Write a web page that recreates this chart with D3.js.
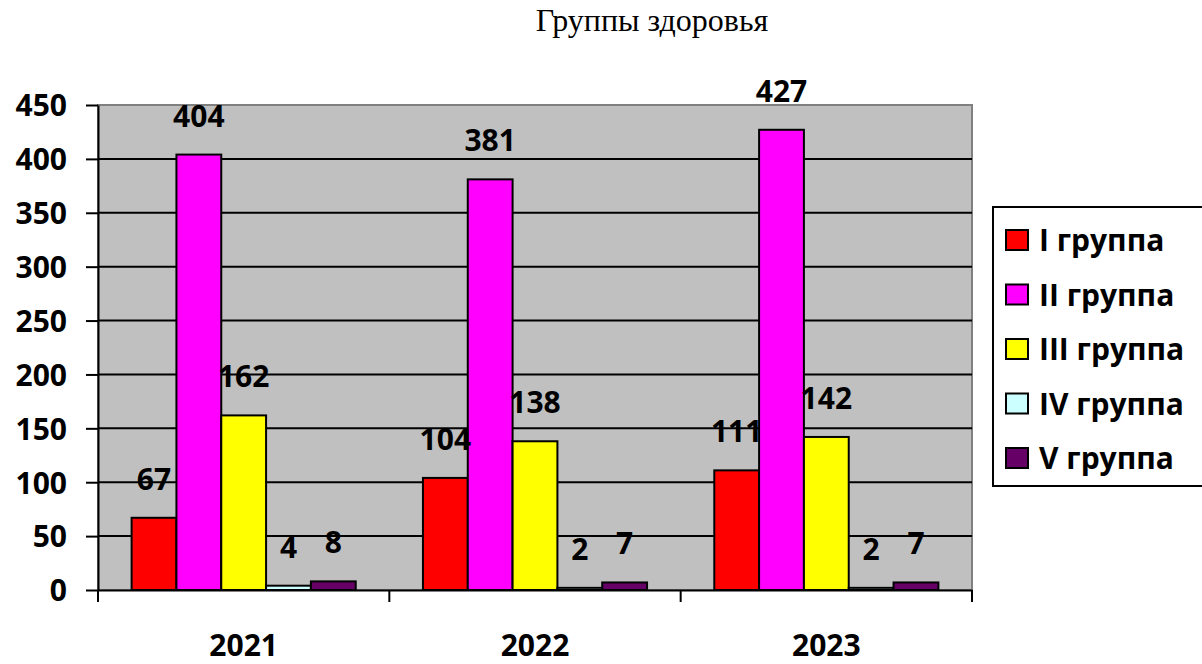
<!DOCTYPE html>
<html><head><meta charset="utf-8">
<script src="https://cdn.jsdelivr.net/npm/d3@7"></script>
<style>body{margin:0;background:#fff;overflow:hidden}</style>
</head><body><svg id="c" width="1202" height="664"></svg>
<script>
const years = ["2021","2022","2023"];
const seriesNames = ["I группа","II группа","III группа","IV группа","V группа"];
const valsI   = [67,104,111];
const valsII  = [404,381,427];
const valsIII = [162,138,142];
const valsIV  = [4,2,2];
const valsV   = [8,7,7];
const yTicks = [0,50,100,150,200,250,300,350,400,450];
const colors = ["#FF0000","#FF00FF","#FFFF00","#CCFFFF","#660066"];
const title = "Группы здоровья";

const allVals = [valsI,valsII,valsIII,valsIV,valsV];
const svg = d3.select("#c");
const L=98,R=972,T=105,B=590;
const x = d3.scaleBand().domain(years).range([L,R]).padding(0);
const xs = d3.scaleBand().domain(seriesNames).range([0,x.bandwidth()]).paddingInner(0).paddingOuter(0.75);
const y = d3.scaleLinear().domain([0,450]).range([B,T]);
const font = "'Open Sans', sans-serif";
const fs = 30;

svg.append("text").attr("x",652).attr("y",31).attr("text-anchor","middle")
  .attr("font-family","'Liberation Serif', serif").attr("font-size",32).attr("fill","#000").text(title);

svg.append("rect").attr("x",L).attr("y",T).attr("width",R-L).attr("height",B-T).attr("fill","#C0C0C0").attr("stroke","#808080").attr("stroke-width",2);

svg.append("g").selectAll("line").data(yTicks.filter(d=>d>0&&d<450)).join("line")
  .attr("x1",L).attr("x2",R).attr("y1",d=>y(d)).attr("y2",d=>y(d)).attr("stroke","#000").attr("stroke-width",2);

// bars
const gs = svg.append("g").selectAll("g").data(years).join("g").attr("transform",d=>`translate(${x(d)},0)`);
gs.each(function(yr,i){
  const g=d3.select(this);
  seriesNames.forEach((s,k)=>{
    const v=allVals[k][i];
    g.append("rect").attr("x",xs(s)).attr("width",xs.bandwidth()).attr("y",y(v)).attr("height",B-y(v))
      .attr("fill",colors[k]).attr("stroke","#000").attr("stroke-width",2);
  });
  seriesNames.forEach((s,k)=>{
    const v=allVals[k][i];
    g.append("text").attr("x",xs(s)+xs.bandwidth()/2).attr("y",y(v)-28).attr("text-anchor","middle")
      .attr("font-family",font).attr("font-weight","bold").attr("font-size",fs).attr("fill","#000").text(v);
  });
});

// y axis
const ya = svg.append("g").attr("transform",`translate(${L},0)`)
  .call(d3.axisLeft(y).tickValues(yTicks).tickSize(12).tickPadding(18).tickSizeOuter(0));
ya.select(".domain").attr("stroke","#000").attr("stroke-width",2);
ya.selectAll(".tick line").attr("stroke","#000").attr("stroke-width",2);
ya.selectAll(".tick text").attr("font-family",font).attr("font-weight","bold").attr("font-size",fs).attr("fill","#000").attr("dy","0.36em").attr("x",-31);

// x axis
const xa = svg.append("g").attr("transform",`translate(0,${B})`)
  .call(d3.axisBottom(x).tickSize(0).tickPadding(0));
xa.select(".domain").attr("stroke","#000").attr("stroke-width",2);
xa.selectAll(".tick text").attr("font-family",font).attr("font-weight","bold").attr("font-size",fs).attr("fill","#000").attr("dy",0).attr("y",66);
const bounds = years.map(d=>x(d)).concat([R]);
svg.append("g").selectAll("line").data(bounds).join("line")
  .attr("x1",d=>d).attr("x2",d=>d).attr("y1",B).attr("y2",B+12).attr("stroke","#000").attr("stroke-width",2);

// legend
const lg = svg.append("g");
lg.append("rect").attr("x",993).attr("y",207).attr("width",220).attr("height",279).attr("fill","#fff").attr("stroke","#000").attr("stroke-width",2);
seriesNames.forEach((s,k)=>{
  const by = 251 + k*54.5;
  lg.append("rect").attr("x",1006).attr("y",by-21).attr("width",22).attr("height",20).attr("fill",colors[k]).attr("stroke","#000").attr("stroke-width",2);
  lg.append("text").attr("x",1039).attr("y",by).attr("font-family",font).attr("font-weight","bold").attr("font-size",fs).attr("fill","#000").text(s);
});
</script></body></html>
